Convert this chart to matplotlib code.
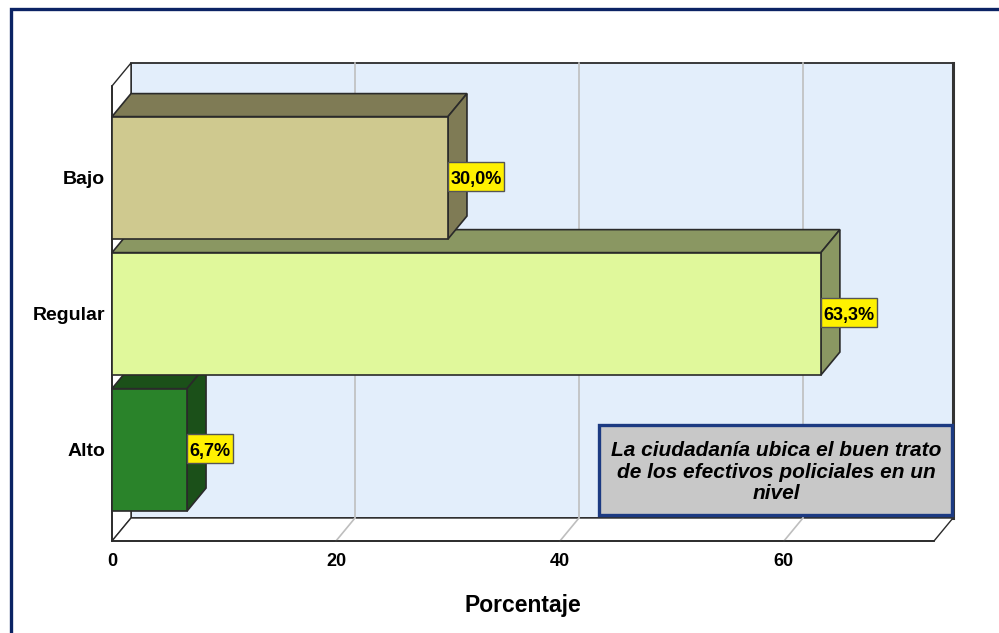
import numpy as np
import matplotlib
matplotlib.use("Agg")
import matplotlib.pyplot as plt
from matplotlib.patches import Polygon, Rectangle
from matplotlib.transforms import IdentityTransform

# Datos del gráfico
categorias = ["Bajo", "Regular", "Alto"]
porcentajes = [30.0, 63.3, 6.7]
etiquetas = ["30,0%", "63,3%", "6,7%"]
colores_frente = ["#CFC98F", "#E0F89B", "#2A832A"]
colores_sombra = ["#7F7B55", "#8A9762", "#1B5019"]
ticks_x = [0, 20, 40, 60]
nota = "La ciudadanía ubica el buen trato\nde los efectivos policiales en un\nnivel"

W, H = 999, 633
fig = plt.figure(figsize=(W / 100, H / 100), dpi=100)
fig.patch.set_facecolor("white")

# plano frontal del gráfico (en píxeles)
izq, der, arr, aba = 112, 934, 86, 541
ax = fig.add_axes([izq / W, 1 - aba / H, (der - izq) / W, (aba - arr) / H])
ax.set_facecolor("none")

xmax = 73.4
y0, y1 = -0.67, 2.675
ax.set_xlim(0, xmax)
ax.set_ylim(y0, y1)

# profundidad del efecto 3D en unidades de datos
prof_px = (19, 23)
DX = prof_px[0] * xmax / (der - izq)
DY = prof_px[1] * (y1 - y0) / (aba - arr)

linea = "#2A2A2A"
fuente = ["Liberation Sans", "DejaVu Sans"]

# pared del fondo
ax.add_patch(Rectangle((DX, y0 + DY), xmax, y1 - y0, fc="#E3EEFB", ec=linea,
                       lw=1.3, clip_on=False, zorder=0))
ax.plot([xmax + DX, xmax + DX], [y0 + DY, y1 + DY], color="#333333", lw=2.2,
        clip_on=False, zorder=0.7)
# pared izquierda
ax.add_patch(Polygon([(0, y0), (0, y1), (DX, y1 + DY), (DX, y0 + DY)],
                     fc="white", ec=linea, lw=1.0, clip_on=False, zorder=0.5))
# piso
ax.add_patch(Polygon([(0, y0), (xmax, y0), (xmax + DX, y0 + DY), (DX, y0 + DY)],
                     fc="white", ec=linea, lw=1.0, clip_on=False, zorder=0.5))

# rejilla
for t in ticks_x[1:]:
    ax.plot([t + DX, t + DX], [y0 + DY, y1 + DY], color="#BEBEBE", lw=1.2,
            clip_on=False, zorder=0.6)
    ax.plot([t, t + DX], [y0, y0 + DY], color="#BEBEBE", lw=1.2,
            clip_on=False, zorder=0.6)

# barras 3D (de abajo hacia arriba)
alto_barra = 0.9
ypos = np.arange(len(categorias))[::-1]
textos = []
for i in range(len(categorias) - 1, -1, -1):
    y = ypos[i]
    v = porcentajes[i]
    z = 2 + (len(categorias) - i)
    yb, yt = y - alto_barra / 2, y + alto_barra / 2
    # cara superior
    ax.add_patch(Polygon([(0, yt), (v, yt), (v + DX, yt + DY), (DX, yt + DY)],
                         fc=colores_sombra[i], ec=linea, lw=1.2,
                         clip_on=False, zorder=z))
    # cara lateral
    ax.add_patch(Polygon([(v, yb), (v, yt), (v + DX, yt + DY), (v + DX, yb + DY)],
                         fc=colores_sombra[i], ec=linea, lw=1.2,
                         clip_on=False, zorder=z))
    # cara frontal
    ax.barh(y, v, height=alto_barra, color=colores_frente[i], edgecolor=linea,
            lw=1.2, zorder=z + 0.1, clip_on=False)
    t = ax.annotate(etiquetas[i], (v, y), xytext=(1.6, -1.2), textcoords="offset points",
                    ha="left", va="center", fontsize=13, fontweight="bold",
                    family=fuente, zorder=10, annotation_clip=False)
    textos.append((t, v, y))

# ejes
for s in ["top", "right"]:
    ax.spines[s].set_visible(False)
for s in ["left", "bottom"]:
    ax.spines[s].set_color(linea)
    ax.spines[s].set_linewidth(1.3)
    ax.spines[s].set_zorder(1)

ax.set_yticks(ypos)
ax.set_yticklabels(categorias, fontsize=14, fontweight="bold", family=fuente)
ax.set_xticks(ticks_x)
ax.set_xticklabels([str(t) for t in ticks_x], fontsize=13, fontweight="bold",
                   family=fuente)
ax.tick_params(axis="y", length=0, pad=5)
ax.tick_params(axis="x", length=0, pad=9)
ax.set_xlabel("Porcentaje", fontsize=16.5, fontweight="bold", family=fuente,
              labelpad=17)

# cajas amarillas de las etiquetas, ajustadas al texto
fig.canvas.draw()
for t, v, y in textos:
    bb = t.get_window_extent()
    xc, yc = ax.transData.transform((v, y))
    ax.add_patch(Rectangle((xc, yc - 13.5), bb.x1 + 2.5 - xc, 29,
                           transform=IdentityTransform(), fc="#FFF100",
                           ec="#555555", lw=1, clip_on=False, zorder=9.5))

# cuadro de nota
fig.patches.append(Rectangle((598.5 / W, 1 - 515 / H), 353 / W, 90 / H,
                             transform=fig.transFigure, fc="#C8C8C8",
                             ec="#1C3A82", lw=2.4, zorder=20))
fig.text(776 / W, 1 - 472 / H, nota, ha="center", va="center", fontsize=15,
         fontweight="bold", fontstyle="italic", linespacing=1.16,
         family=fuente, zorder=21)

# marco exterior
fig.patches.append(Rectangle((10.5 / W, -0.1), 1.2, 1.1 - 9.5 / H,
                             transform=fig.transFigure, fill=False,
                             ec="#0B2364", lw=2.4, zorder=30))

fig.savefig("out.png", dpi=100)
